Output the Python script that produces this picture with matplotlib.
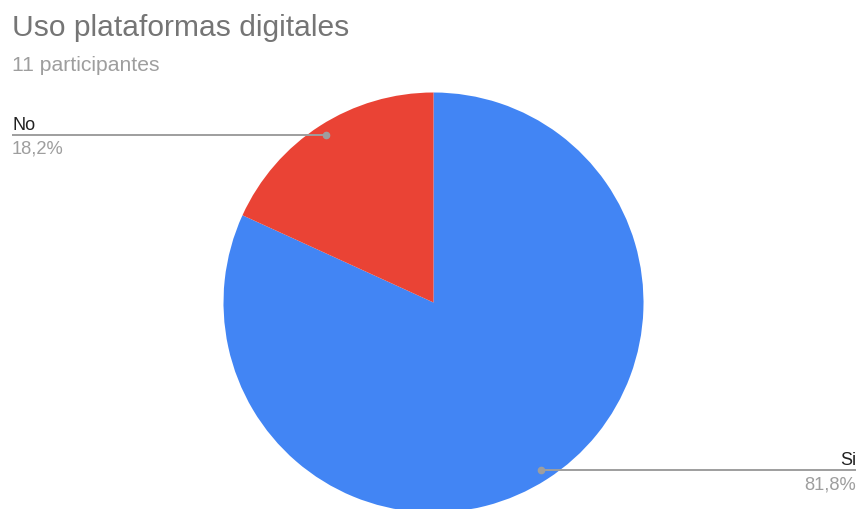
import numpy as np
import matplotlib.pyplot as plt

plt.rcParams['font.family'] = ['Liberation Sans', 'DejaVu Sans']

# respuestas de la encuesta
categorias = ['Si', 'No']
respuestas = [9, 2]
colores = ['#4285F4', '#EA4335']
titulo = 'Uso plataformas digitales'
subtitulo = '11 participantes'

W, H = 858, 510
fig = plt.figure(figsize=(W / 100, H / 100), dpi=100)
ax = fig.add_axes([0, 0, 1, 1])

cx, cy, r = 433.5, H - 303.5, 210
wedges, _ = ax.pie(respuestas, colors=colores, startangle=90, counterclock=False,
                   center=(cx, cy), radius=r, frame=True)
ax.set_xlim(0, W)
ax.set_ylim(0, H)
ax.set_aspect('equal')
ax.axis('off')

total = sum(respuestas)
gris = '#9e9e9e'
for w, cat, val in zip(wedges, categorias, respuestas):
    ang = np.deg2rad((w.theta1 + w.theta2) / 2)
    px = cx + 0.95 * r * np.cos(ang)
    py = cy + 0.95 * r * np.sin(ang)
    pct = f'{100 * val / total:.1f}%'.replace('.', ',')
    if np.cos(ang) < 0:
        x_end, ha = 12, 'left'
    else:
        x_end, ha = W - 2, 'right'
    ax.plot([px, x_end], [py, py], color=gris, lw=1.4, solid_capstyle='butt')
    ax.plot(px, py, 'o', color=gris, ms=4.5)
    ax.text(x_end, py + 6, cat, ha=ha, va='baseline', fontsize=13, color='#212121')
    ax.text(x_end, py - 18, pct, ha=ha, va='baseline', fontsize=13.2, color=gris)

fig.text(12 / W, 1 - 36 / H, titulo, fontsize=21.6, color='#757575', va='baseline')
fig.text(12 / W, 1 - 71 / H, subtitulo, fontsize=15.2, color='#9e9e9e', va='baseline')

fig.savefig('out.png', dpi=100)
